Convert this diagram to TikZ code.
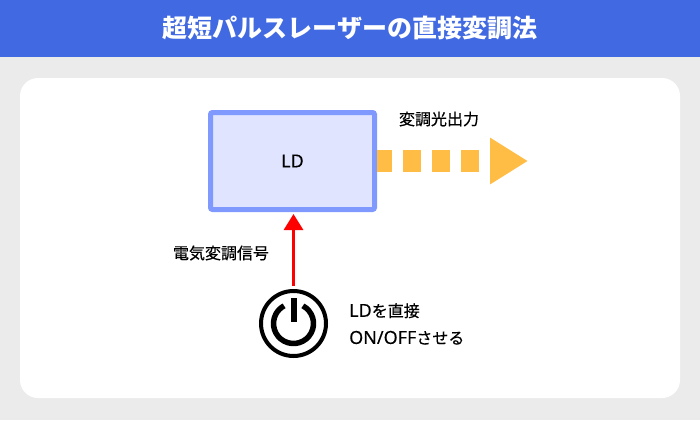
\documentclass[tikz,border=0pt]{standalone}
\usepackage{fontspec}
\setmainfont{Noto Sans CJK JP}
\newfontfamily\jpfont[FakeBold=0.45]{Noto Sans CJK JP}
\newfontfamily\latinfont[FakeBold=0.25]{Noto Sans}
\usetikzlibrary{positioning,arrows.meta}
\definecolor{bgGray}{HTML}{EBEBEB}
\definecolor{titleBlue}{HTML}{4169E1}
\definecolor{ldFill}{HTML}{E0E4FF}
\definecolor{ldLine}{HTML}{8099FF}
\definecolor{lightOrange}{HTML}{FFBD45}
\newcommand{\jptext}[1]{{\fontsize{16}{27}\selectfont\jpfont #1}}
\newcommand{\lat}[1]{{\fontsize{18}{27}\selectfont\latinfont #1}}
\tikzset{
  label/.style={font=\fontsize{16}{27}\selectfont,text=black,inner sep=0pt,align=left},
  ldbox/.style={draw=ldLine,fill=ldFill,line width=5pt,rounded corners=2pt,minimum width=164pt,minimum height=97pt}
}

\begin{document}
\begin{tikzpicture}[x=1pt,y=-1pt]
  \useasboundingbox (0,0) rectangle (700,420);

  % background
  \fill[bgGray] (0,0) rectangle (700,420);
  \fill[titleBlue] (0,0) rectangle (700,57);
  \fill[white,rounded corners=18pt] (20,78) rectangle (680,398);
  \node[font=\fontsize{25}{28}\selectfont\bfseries,text=white,inner sep=0pt] (title) at (350,28) {超短パルスレーザーの直接変調法};

  % laser diode
  \node[ldbox,label] (ld) at (292.5,161) {\lat{LD}};

  % output light
  \coordinate (tip) at (528,161);
  \draw[lightOrange,line width=22pt,dash pattern=on 18pt off 11pt,dash phase=3pt,
    -{Triangle[length=38pt,width=44pt]}] (ld.east) -- (tip);
  \node[label] (out) at (439,119) {\jptext{変調光出力}};

  % power switch
  \node[circle,draw=black,line width=4pt,minimum size=65pt,inner sep=0pt] (power) at (293.5,323.5) {};
  \draw[line width=5.5pt] (power.center) ++(-62:20) arc[start angle=-62,end angle=242,radius=20];
  \coordinate (bartop) at (293.5,298);
  \coordinate (barend) at (293.5,322);
  \draw[line width=6pt] (bartop) -- (barend);

  % modulation signal
  \draw[red,line width=3pt,shorten <=3pt,shorten >=2pt,-{Triangle[length=16pt,width=19pt]}] (power.north) -- (power.north |- ld.south);
  \node[label] (signal) at (221,253) {\jptext{電気変調信号}};
  \node[label,anchor=west] (note) at (349,324) {\lat{LD}\jptext{を直接}\\\lat{ON/OFF}\jptext{させる}};
\end{tikzpicture}
\end{document}
